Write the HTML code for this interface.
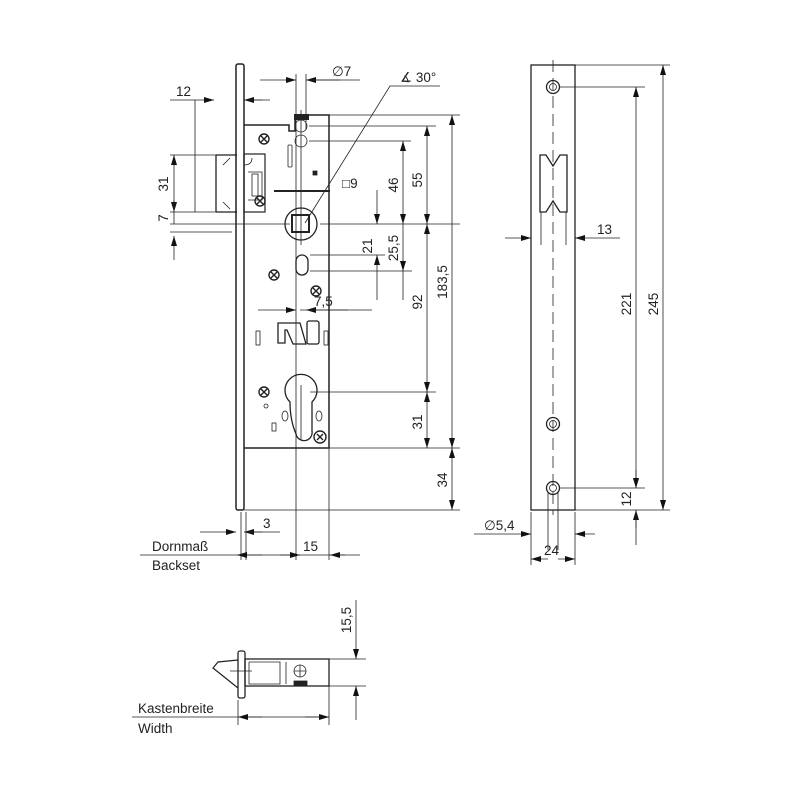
<!DOCTYPE html>
<html><head><meta charset="utf-8"><style>
html,body{margin:0;padding:0;background:#fff;}
svg{display:block;}
text{font-family:"Liberation Sans",sans-serif;font-size:13.5px;fill:#222;}
</style></head><body>
<svg width="800" height="800" viewBox="0 0 800 800" xmlns="http://www.w3.org/2000/svg">
<defs>
<marker id="a" viewBox="0 0 10 6" refX="10" refY="3" markerWidth="10" markerHeight="6" orient="auto-start-reverse" markerUnits="userSpaceOnUse"><path d="M0,0L10,3L0,6z" fill="#111"/></marker>
</defs>
<g stroke="#222" fill="none" stroke-width="0.8">
<!-- FRONT VIEW -->
<rect x="236" y="64" width="8" height="446" rx="2" stroke-width="1.5"/>
<path d="M244,125 H289 V131 H295 V115 H329 V448 H244" stroke-width="1.5"/>
<!-- latch -->
<path d="M216,155 H237 M216,212 H237 M216,155 V212" stroke-width="1.3"/>
<path d="M223,165 L230,158 M223,202 L230,209"/>
<rect x="244" y="154" width="21" height="58" stroke-width="1.2"/>
<path d="M244,165 Q252,165 252,158 M248,172 H262 V200 H248" />
<rect x="252" y="174" width="6" height="22"/>
<!-- holes top -->
<circle cx="301" cy="126" r="6"/><circle cx="301" cy="141" r="6"/>
<rect x="294" y="114" width="15" height="6" fill="#222" stroke="none"/>
<rect x="288" y="145" width="4" height="22" rx="1"/>
<rect x="313" y="171" width="4" height="4" fill="#222"/>
<g stroke-width="1.4">
<circle cx="264" cy="139" r="5"/><path d="M261,136 L267,142 M267,136 L261,142"/>
<circle cx="260" cy="201" r="5"/><path d="M257,198 L263,204 M263,198 L257,204"/>
<circle cx="274" cy="275" r="5"/><path d="M271,272 L277,278 M277,272 L271,278"/>
<circle cx="316" cy="291" r="5"/><path d="M313,288 L319,294 M319,288 L313,294"/>
<circle cx="264" cy="392" r="5"/><path d="M261,389 L267,395 M267,389 L261,395"/>
<circle cx="320" cy="437" r="6"/><path d="M317,434 L323,440 M323,434 L317,440"/>
</g>
<!-- spindle -->
<circle cx="301" cy="224" r="16" stroke-width="1.3"/>
<rect x="292" y="215" width="17" height="17" stroke-width="2"/>
<path d="M274,191 H330" stroke-width="2"/>
<!-- slot -->
<rect x="296" y="255" width="12" height="20" rx="6" stroke-width="1.3"/>
<!-- hook -->
<path d="M278,323 H300 L306,344 H293 L287,330 H285 V343 H278Z" stroke-width="1.3"/>
<rect x="307" y="321" width="12" height="23" rx="2" stroke-width="1.3"/>
<rect x="256" y="331" width="4" height="14"/>
<rect x="324" y="331" width="4" height="14"/>
<!-- cylinder -->
<path d="M290,402 A16,16 0 1 1 312,402 V431 A8,8 0 0 1 296,434 Q290,420 290,402Z" stroke-width="1.3"/>
<circle cx="266" cy="406" r="2"/>
<ellipse cx="285" cy="416" rx="3" ry="5"/><ellipse cx="319" cy="416" rx="3" ry="5"/>
<rect x="272" y="423" width="4" height="8"/>
<!-- center lines -->
<path d="M296,74 V560 M306,74 V130 M301,110 V245 M301,385 V440" />
<path d="M329,440 V560 M241,512 V560 M246,512 V560"/>
<!-- dims left -->
<path d="M195,100 V212 M170,155 H216 M170,212 H230 M170,224 H290 M170,232 H232"/>
<path d="M170,100 H202" /><path d="M202,100 H214" marker-end="url(#a)"/><path d="M270,100 H244" marker-end="url(#a)"/><path d="M244,100 H262"/>
<text x="176" y="96" stroke="none">12</text>
<path d="M174,155 V212" marker-start="url(#a)" marker-end="url(#a)"/>
<path d="M174,200 V224" /><path d="M174,236 V260" marker-start="url(#a)"/>
<text transform="translate(168,184) rotate(-90)" text-anchor="middle" stroke="none">31</text>
<text transform="translate(168,218) rotate(-90)" text-anchor="middle" stroke="none">7</text>
<!-- Ø7 -->
<path d="M260,80 H296" marker-end="url(#a)"/><path d="M340,80 H306" marker-end="url(#a)"/><path d="M306,80 H360"/>
<text x="332" y="76" stroke="none">∅7</text>
<path d="M305,223 L390,86 H440"/><text x="400" y="82" stroke="none">∡ 30°</text>
<text x="342" y="188" stroke="none">□9</text>
<!-- right vertical dims -->
<path d="M329,115 H460 M309,126 H436 M309,141 H411 M320,224 H460 M310,255 H385 M310,271 H412 M310,392 H436 M329,448 H460 M244,510 H460"/>
<path d="M452,115 V448" marker-start="url(#a)" marker-end="url(#a)"/>
<path d="M452,448 V510" marker-start="url(#a)" marker-end="url(#a)"/>
<path d="M427,126 V224" marker-start="url(#a)" marker-end="url(#a)"/>
<path d="M403,141 V224" marker-start="url(#a)" marker-end="url(#a)"/>
<path d="M427,224 V392" marker-start="url(#a)" marker-end="url(#a)"/>
<path d="M427,392 V448" marker-start="url(#a)" marker-end="url(#a)"/>
<path d="M377,190 V224" marker-end="url(#a)"/><path d="M377,255 V300" marker-start="url(#a)"/>
<path d="M403,224 V271" marker-end="url(#a)"/><path d="M403,271 V300"/>
<text transform="translate(447,282) rotate(-90)" text-anchor="middle" stroke="none">183,5</text>
<text transform="translate(422,180) rotate(-90)" text-anchor="middle" stroke="none">55</text>
<text transform="translate(398,185) rotate(-90)" text-anchor="middle" stroke="none">46</text>
<text transform="translate(372,246) rotate(-90)" text-anchor="middle" stroke="none">21</text>
<text transform="translate(398,248) rotate(-90)" text-anchor="middle" stroke="none">25,5</text>
<text transform="translate(422,302) rotate(-90)" text-anchor="middle" stroke="none">92</text>
<text transform="translate(422,422) rotate(-90)" text-anchor="middle" stroke="none">31</text>
<text transform="translate(447,480) rotate(-90)" text-anchor="middle" stroke="none">34</text>
<!-- 7,5 -->
<path d="M258,310 H296" marker-end="url(#a)"/><path d="M348,310 H306" marker-end="url(#a)"/><path d="M300,310 H372"/>
<text x="314" y="306" stroke="none">7,5</text>
<!-- 3 and 15 -->
<path d="M200,532 H236" marker-end="url(#a)"/><path d="M262,532 H244" marker-end="url(#a)"/><path d="M244,532 H280"/>
<text x="263" y="528" stroke="none">3</text>
<path d="M140,555 H360"/>
<path d="M262,555 H237" marker-end="url(#a)"/><path d="M280,555 H300" marker-end="url(#a)"/><path d="M345,555 H330" marker-end="url(#a)"/>
<text x="303" y="551" stroke="none">15</text>
<text x="152" y="551" stroke="none">Dornmaß</text>
<text x="152" y="570" stroke="none">Backset</text>
<!-- RIGHT VIEW -->
<rect x="531" y="65" width="44" height="445" stroke-width="1.3"/>
<path d="M553,60 V515" stroke-dasharray="12,6"/>
<circle cx="553" cy="87" r="6.5" stroke-width="1.3"/><circle cx="553" cy="87" r="3.5"/>
<circle cx="553" cy="424" r="6.5" stroke-width="1.3"/><circle cx="553" cy="424" r="3.5"/>
<circle cx="553" cy="488" r="6.5" stroke-width="1.3"/><circle cx="553" cy="488" r="3.5"/>
<path d="M540,155 H546 L553,166 L560,155 H567 V212 H560 L553,201 L546,212 H540Z" stroke-width="1.3"/>
<path d="M541,212 V245 M566,212 V245"/>
<path d="M505,238 H531" marker-end="url(#a)"/><path d="M582,238 H575" marker-end="url(#a)"/><path d="M575,238 H620"/>
<text x="597" y="234" stroke="none">13</text>
<path d="M575,65 H670 M560,87 H645 M560,488 H645 M575,510 H670"/>
<path d="M663,65 V510" marker-start="url(#a)" marker-end="url(#a)"/>
<path d="M636,87 V488" marker-start="url(#a)" marker-end="url(#a)"/>
<path d="M636,470 V488" marker-end="url(#a)"/><path d="M636,528 V510" marker-end="url(#a)"/><path d="M636,510 V545"/>
<text transform="translate(631,304) rotate(-90)" text-anchor="middle" stroke="none">221</text>
<text transform="translate(658,304) rotate(-90)" text-anchor="middle" stroke="none">245</text>
<text transform="translate(631,499) rotate(-90)" text-anchor="middle" stroke="none">12</text>
<path d="M531,512 V565 M575,512 V565 M548,492 V550 M558,492 V550"/>
<path d="M474,534 H531" marker-end="url(#a)"/><path d="M595,534 H575" marker-end="url(#a)"/>
<text x="484" y="530" stroke="none">∅5,4</text>
<path d="M548,559 H531" marker-end="url(#a)"/><path d="M558,559 H575" marker-end="url(#a)"/>
<text x="544" y="555" stroke="none">24</text>
<!-- BOTTOM VIEW -->
<rect x="238" y="651" width="7" height="47" rx="2" stroke-width="1.3"/>
<rect x="245" y="659" width="84" height="27" stroke-width="1.3"/>
<path d="M238,660 L218,662 L213,668 L238,688" stroke-width="1.2"/>
<path d="M249,662 V684 H280 V662 H249 M280,662 V684 M286,662 V684"/>
<circle cx="300" cy="671" r="6"/><rect x="294" y="681" width="13" height="5" fill="#222"/>
<path d="M300,665 V677 M294,671 H306"/>
<path d="M230,671 H252"/>
<path d="M329,659 H366 M329,686 H366 M238,700 V725 M329,686 V725"/>
<path d="M356,600 V659" marker-end="url(#a)"/><path d="M356,720 V686" marker-end="url(#a)"/>
<text transform="translate(351,620) rotate(-90)" text-anchor="middle" stroke="none">15,5</text>
<path d="M132,717 H329"/>
<path d="M262,717 H238" marker-end="url(#a)"/><path d="M305,717 H329" marker-end="url(#a)"/>
<text x="138" y="713" stroke="none">Kastenbreite</text>
<text x="138" y="733" stroke="none">Width</text>
</g>
</svg>
</body></html>
